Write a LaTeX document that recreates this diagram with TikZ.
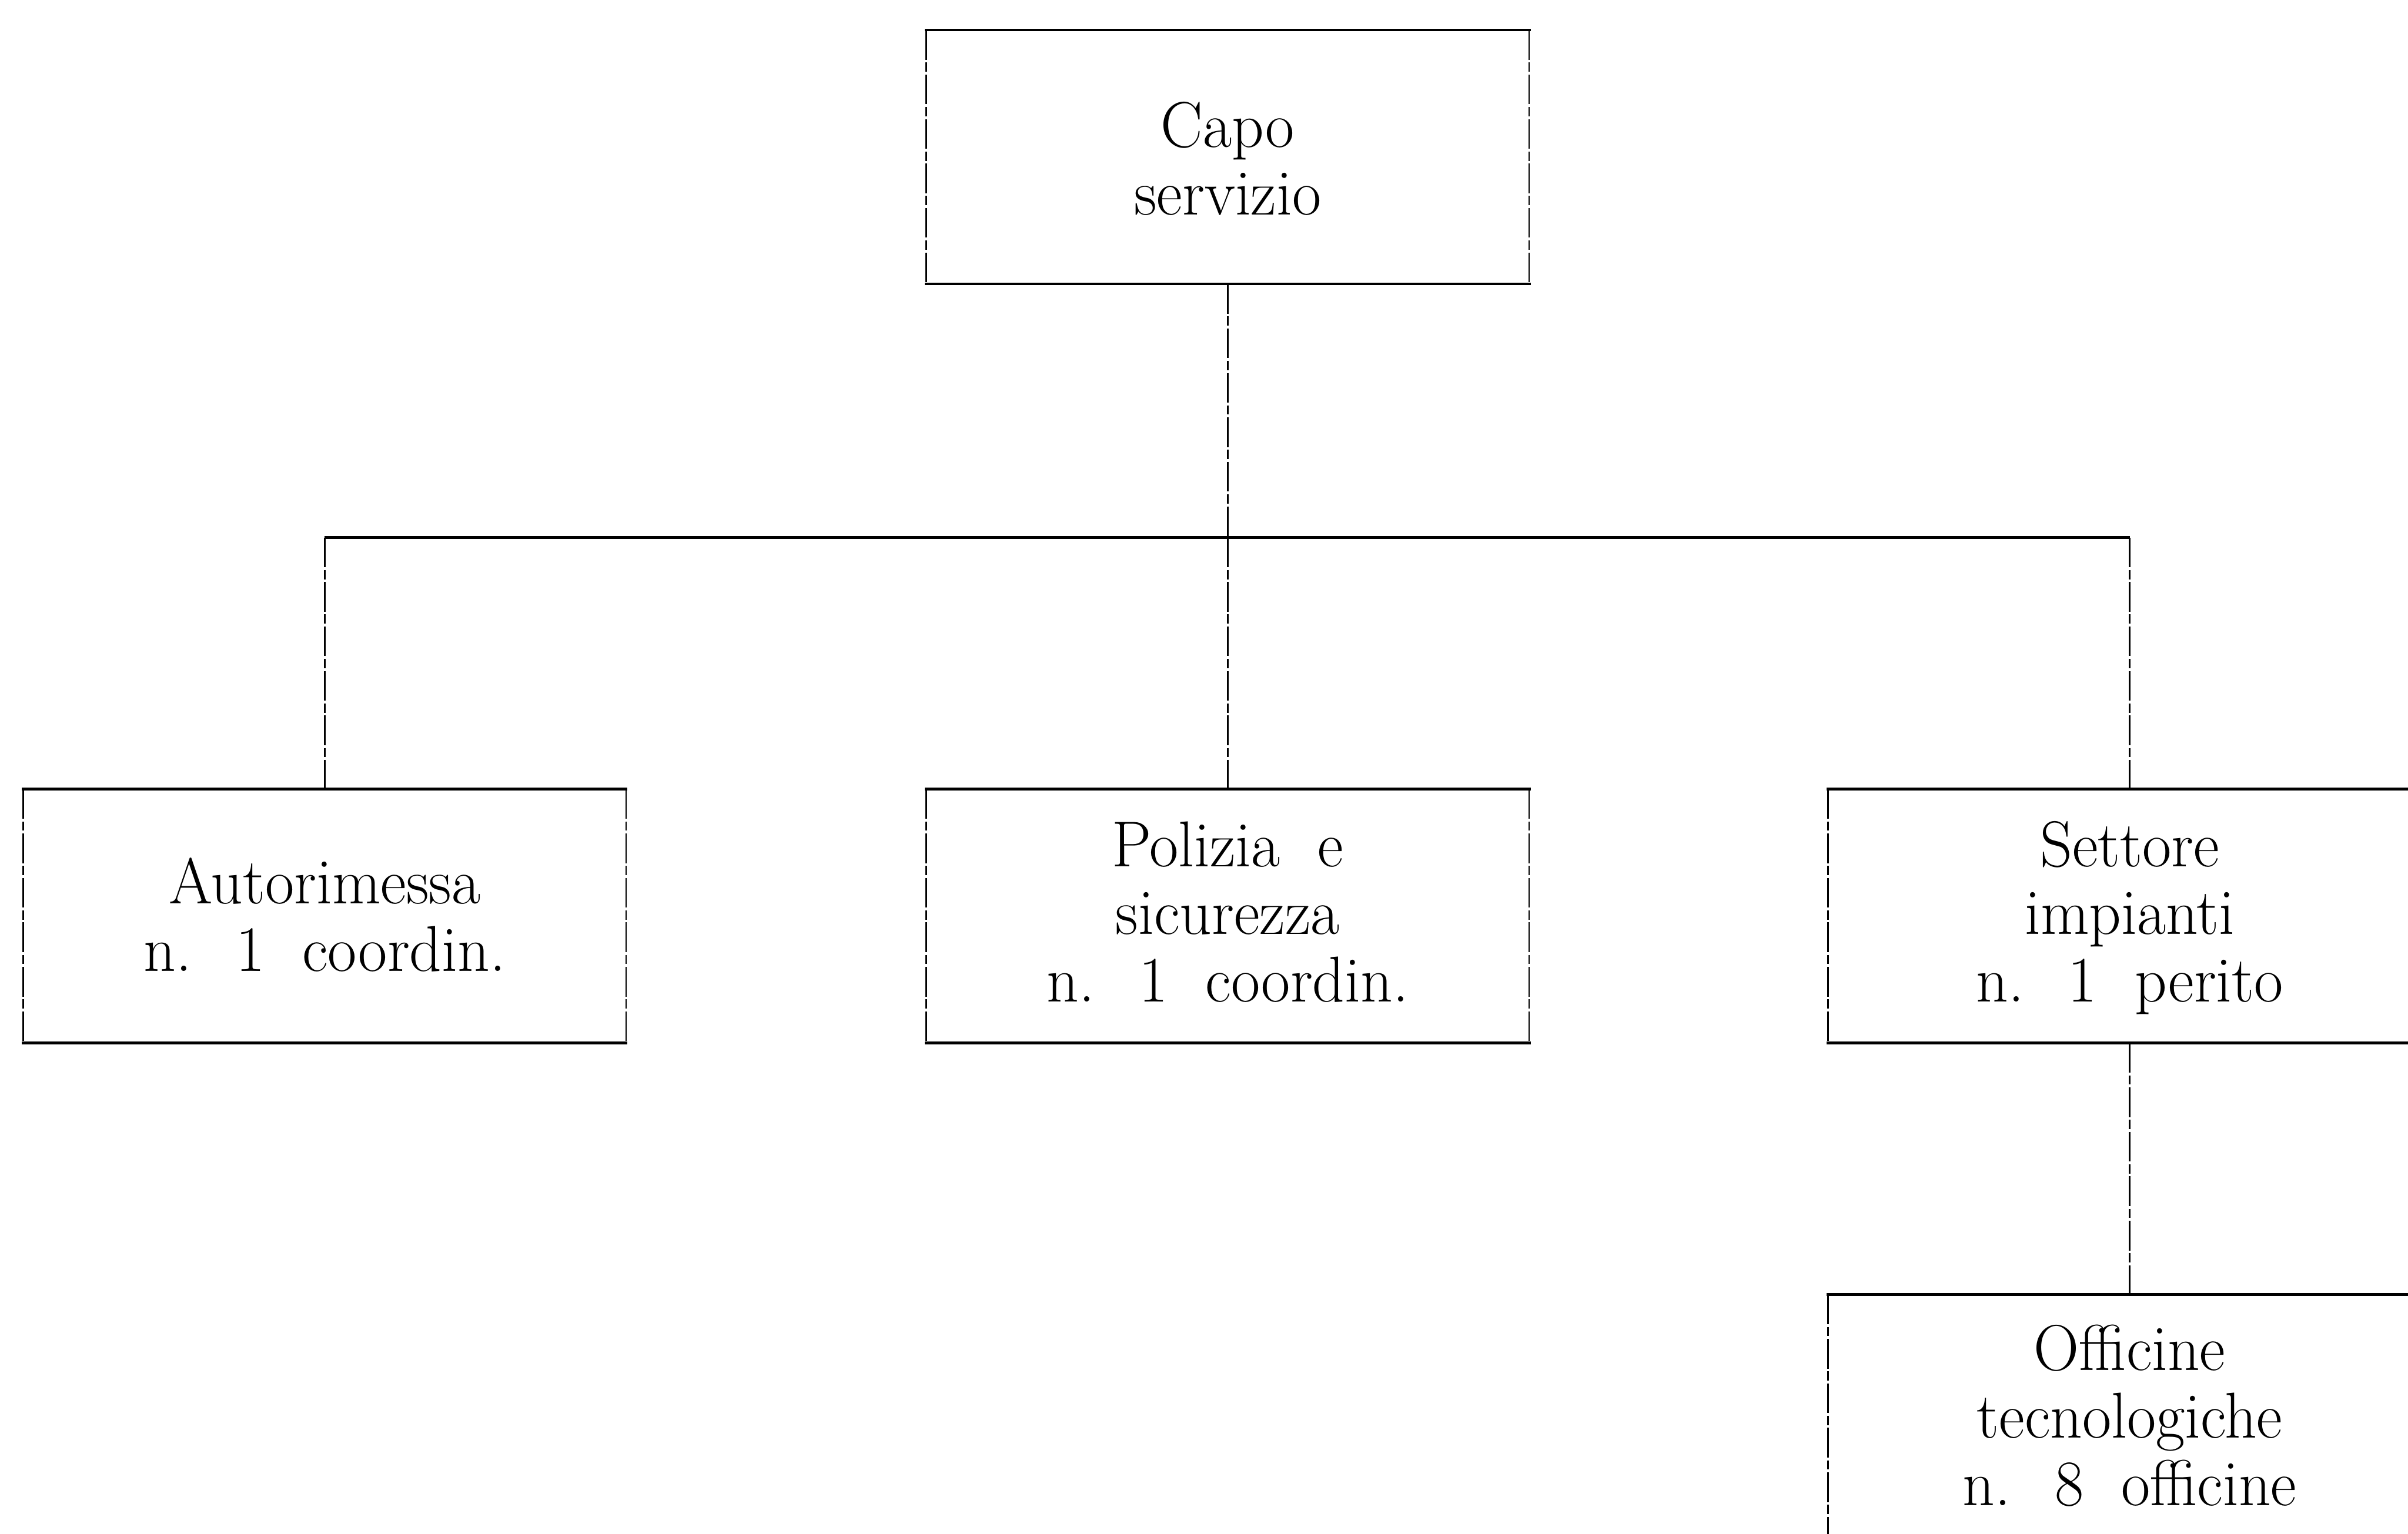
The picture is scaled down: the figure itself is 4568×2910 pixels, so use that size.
\documentclass[tikz,border=0pt]{standalone}
\usepackage{graphicx}
% multi-line box label, set slightly condensed with wide word spaces;
% the optional argument lowers the label inside its box
\newcommand\boxtext[2][0.1cm]{\raisebox{-#1}[\height][\depth]{\scalebox{0.97}[1]{\spaceskip=0.6em\relax\begin{tabular}{@{}c@{}}#2\end{tabular}}}}
\begin{document}
\begin{tikzpicture}[x=0.01cm,y=-0.01cm,
  unit/.style={rectangle,minimum width=11.42cm,minimum height=4.80cm,inner sep=0pt,
    font=\fontsize{35}{36.5}\selectfont},
  rim/.style={line width=1.4pt,line cap=rect},
  side/.style={line width=0.75pt,dash pattern=on 16pt off 1.5pt on 5pt off 1.5pt},
  link/.style={line width=0.75pt,dash pattern=on 16pt off 1.5pt on 5pt off 1.5pt},
  bus/.style={line width=1.4pt}]
  \clip (0,0) rectangle (4568,2910);
  \useasboundingbox (0,0) rectangle (4568,2910);

  % units
  \node[unit] (capo) at (2329,298)  {\boxtext[0.2cm]{Capo\\servizio}};
  \node[unit] (auto) at (616,1738)  {\boxtext[0.15cm]{Autorimessa\\n. 1 coordin.}};
  \node[unit] (poli) at (2329,1738) {\boxtext[0.09cm]{Polizia e\\sicurezza\\n. 1 coordin.}};
  \node[unit] (sett) at (4040,1738) {\boxtext[0.09cm]{Settore\\impianti\\n. 1 perito}};
  \node[unit] (offi) at (4040,2697) {\boxtext[0.06cm]{Officine\\tecnologiche\\n. 8 officine}};

  % box outlines: light sides, heavy top and bottom rules
  \foreach \n in {capo,auto,poli,sett,offi}{
    \draw[side] (\n.north west) -- (\n.south west) (\n.north east) -- (\n.south east);
    \draw[rim] (\n.north west) -- (\n.north east) (\n.south west) -- (\n.south east);
  }

  % branching points on the distribution line
  \coordinate (busL) at (616,1020);
  \coordinate (busC) at (2329,1020);
  \coordinate (busR) at (4040,1020);

  \draw[bus] (busL) -- (busR);
  \draw[link] (capo.south) -- (busC);
  \draw[link] (busL) -- (auto.north);
  \draw[link] (busC) -- (poli.north);
  \draw[link] (busR) -- (sett.north);
  \draw[link] (sett.south) -- (offi.north);
\end{tikzpicture}
\end{document}
